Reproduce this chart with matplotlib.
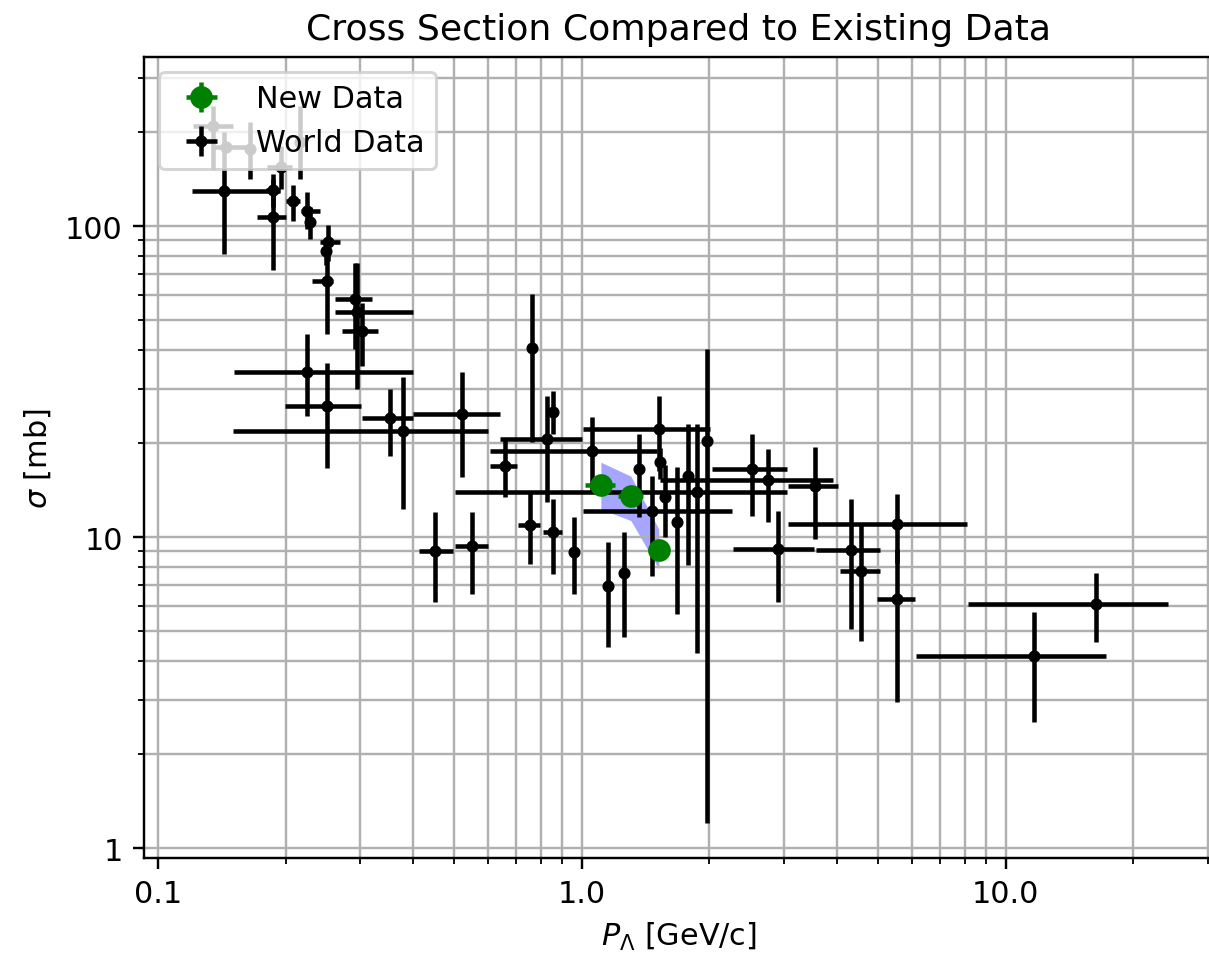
import matplotlib
matplotlib.use("Agg")
import matplotlib.pyplot as plt
from matplotlib.ticker import FormatStrFormatter

# World data: momentum [GeV/c] with lower/upper errors, cross section [mb] with lower/upper errors
world_p = [0.135, 0.143, 0.145, 0.165, 0.195, 0.216, 0.187, 0.187, 0.208, 0.225,
           0.228, 0.252, 0.249, 0.250, 0.291, 0.295, 0.303, 0.225, 0.250, 0.353,
           0.378, 0.521, 0.450, 0.550, 0.659, 0.754, 0.762, 0.827, 0.854, 0.854,
           0.958, 1.056, 1.152, 1.256, 1.363, 1.463, 1.519, 1.528, 1.570, 1.675,
           1.778, 1.867, 1.971, 2.517, 2.746, 2.899, 3.544, 4.309, 4.550, 5.534,
           5.534, 11.65, 16.31]
world_p_lo = [0.014, 0.023, 0.010, 0.0, 0.014, 0.0, 0.007, 0.016, 0.007, 0.008,
              0.004, 0.011, 0.005, 0.019, 0.030, 0.033, 0.031, 0.074, 0.051, 0.050,
              0.228, 0.122, 0.037, 0.049, 0.052, 0.048, 0.0, 0.186, 0.045, 0.0,
              0.02, 0.449, 0.0, 0.0, 0.03, 0.458, 0.514, 0.0, 0.0, 0.0,
              0.0, 1.365, 0.0, 0.49, 1.22, 0.63, 0.48, 0.74, 0.49, 2.47,
              0.57, 5.5, 8.18]
world_p_hi = [0.015, 0.051, 0.022, 0.0, 0.012, 0.0, 0.007, 0.013, 0.008, 0.016,
              0.004, 0.017, 0.005, 0.009, 0.029, 0.105, 0.028, 0.175, 0.051, 0.047,
              0.222, 0.120, 0.046, 0.050, 0.044, 0.042, 0.0, 0.173, 0.043, 0.0,
              0.02, 0.447, 0.0, 0.0, 0.03, 0.796, 0.485, 0.0, 0.0, 0.0,
              0.0, 1.178, 0.0, 0.53, 1.16, 0.63, 0.47, 0.74, 0.49, 2.56,
              0.57, 5.56, 7.8]
world_sigma = [209, 130, 180, 177, 155, 186, 131, 107, 120, 112,
               103, 89, 83, 66.5, 58.3, 52.9, 46.0, 33.9, 26.4, 24.1,
               21.9, 24.9, 9.02, 9.36, 16.9, 10.93, 40.5, 20.7, 10.38, 25.2,
               8.95, 18.9, 6.96, 7.66, 16.5, 12.1, 22.25, 17.4, 13.5, 11.17,
               15.7, 13.95, 20.4, 16.5, 15.25, 9.15, 14.6, 9.08, 7.77, 11.0,
               6.32, 4.14, 6.09]
world_sigma_lo = [56, 49, 0, 35, 23, 44, 16, 35, 16, 14,
                  12, 12, 8, 21.5, 18, 23, 10.5, 9.4, 9.7, 5.9,
                  9.6, 9.3, 2.84, 2.8, 3.4, 2.74, 20.3, 7.7, 2.78, 3.8,
                  2.4, 4.95, 2.53, 2.89, 4.9, 4.6, 6.0, 2.0, 3.5, 5.5,
                  7.6, 9.7, 19.2, 4.8, 4.1, 2.97, 4.75, 4.0, 3.14, 2.75,
                  3.37, 1.6, 1.49]
world_sigma_hi = [34, 70, 0, 39, 26, 57, 16, 35, 15, 17,
                  12, 12, 8, 21, 18, 23, 10.5, 11, 9.9, 5.8,
                  10.8, 9.0, 3.0, 2.64, 3.8, 3.02, 19.9, 7.7, 2.87, 4.3,
                  2.65, 5.4, 2.68, 2.72, 4.9, 3.6, 6.15, 2.0, 3.5, 5.6,
                  7.4, 9.1, 19.8, 4.9, 3.95, 2.95, 4.9, 4.17, 3.23, 2.75,
                  2.83, 1.6, 1.57]

# New measurement with its systematic band
new_p = [1.109, 1.305, 1.519]
new_p_err = [0.09, 0.09, 0.09]
new_sigma = [14.7, 13.55, 9.08]
new_sigma_err = [0.8, 0.8, 0.6]
band_lo = [12.3, 11.3, 7.9]
band_hi = [17.4, 15.7, 10.6]

DPI = 217.5
W, H = 1209, 956
fig = plt.figure(figsize=(W / DPI, H / DPI), dpi=DPI)
ax = fig.add_axes([144 / W, 97 / H, 1070 / W, 801 / H])
ax.set_xscale("log")
ax.set_yscale("log")

ax.fill_between(new_p, band_lo, band_hi, color="blue", alpha=0.35, linewidth=0, zorder=1)

world = ax.errorbar(world_p, world_sigma,
                    xerr=[world_p_lo, world_p_hi],
                    yerr=[world_sigma_lo, world_sigma_hi],
                    fmt=".", color="black", capsize=0, zorder=2)
new = ax.errorbar(new_p, new_sigma, xerr=new_p_err, yerr=new_sigma_err,
                  fmt="o", color="green", ms=6.5, capsize=0, zorder=3)

ax.set_xlim(0.0927, 31)
ax.set_ylim(0.929, 349.5)
ax.grid(True, which="both")
ax.xaxis.set_major_formatter(FormatStrFormatter("%.1f"))
ax.yaxis.set_major_formatter(FormatStrFormatter("%d"))

ax.set_title("Cross Section Compared to Existing Data")
ax.set_xlabel(r"$P_{\Lambda}$ [GeV/c]")
ax.set_ylabel(r"$\sigma$ [mb]")
ax.legend([new, world], ["New Data", "World Data"], loc="upper left")

fig.savefig("out.png", dpi=DPI)
